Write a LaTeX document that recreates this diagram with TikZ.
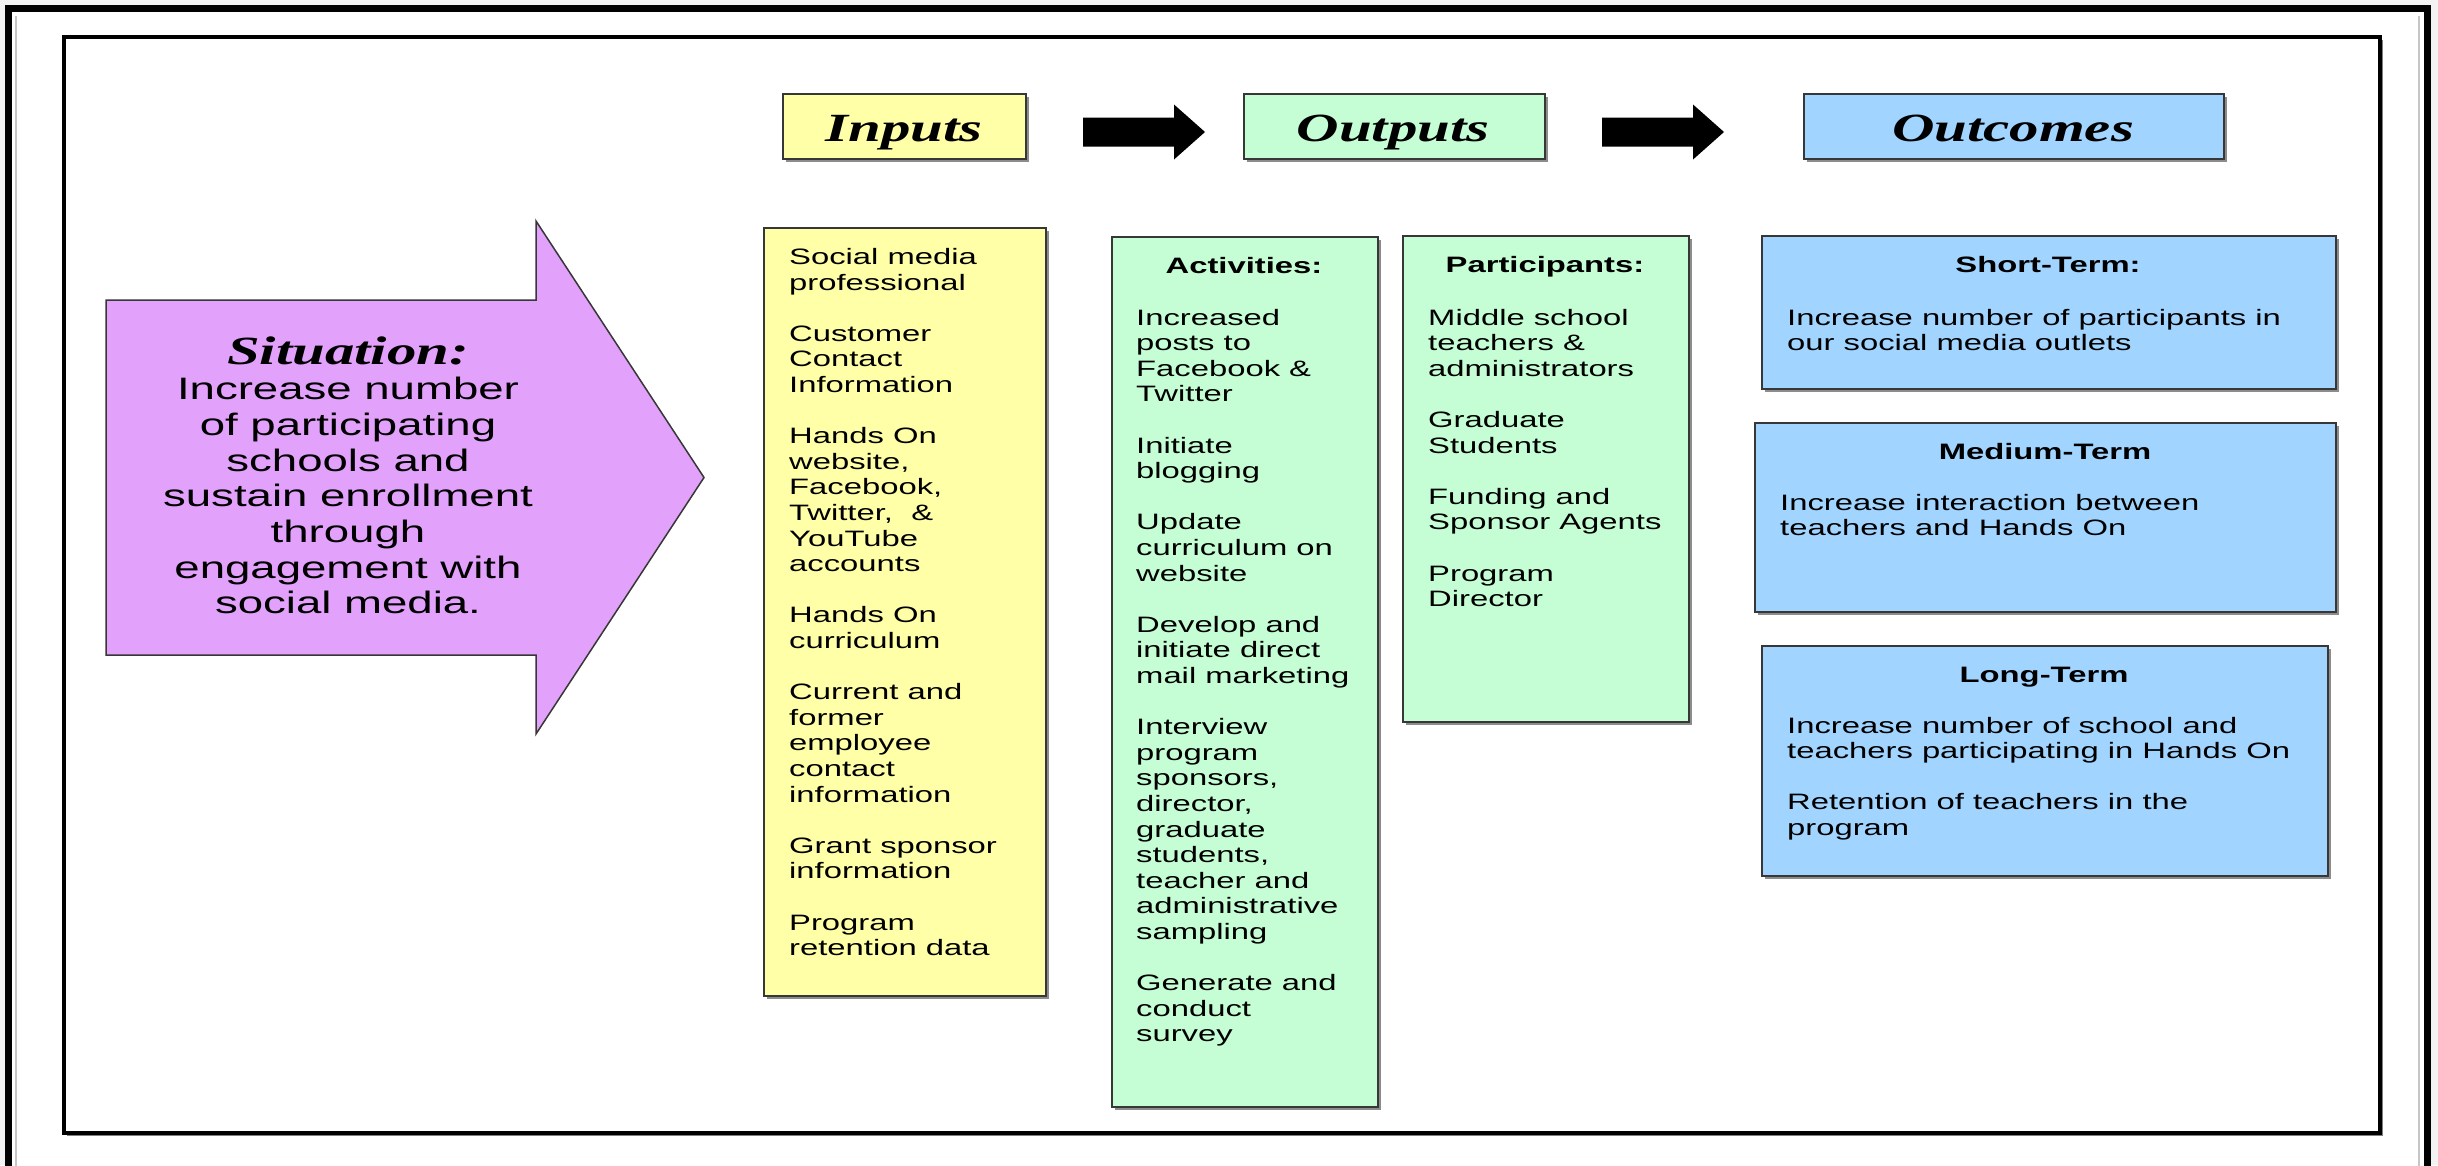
\documentclass[tikz,border=0pt]{standalone}
\usepackage{fontspec}
\setmainfont{Liberation Sans}[FakeStretch=1.47]
\newfontfamily\headfont{Liberation Serif}[FakeStretch=1.47]
\usetikzlibrary{shadows,calc}

\definecolor{inyellow}{RGB}{255,255,168}
\definecolor{outgreen}{RGB}{197,254,213}
\definecolor{outblue}{RGB}{161,212,254}
\definecolor{sitpurple}{RGB}{226,161,250}
\definecolor{boxline}{RGB}{55,55,55}
\definecolor{pagegray}{RGB}{242,242,242}

% stacked lines whose reference point is the first baseline
\newcommand\leftlines[1]{\vtop{\halign{##\hfil\cr#1\crcr}}}
\newcommand\centerlines[1]{\vtop{\halign{\hfil##\hfil\cr#1\crcr}}}

% block arrow: tail, tip, shaft half-width, head half-width, head length
\newcommand\blockarrow[5]{%
  \path[blockarrow] ($(#1)+(0,#3)$) -- ($(#2)+(-#5,#3)$) -- ($(#2)+(-#5,#4)$)
    -- (#2) -- ($(#2)+(-#5,-#4)$) -- ($(#2)+(-#5,-#3)$) -- ($(#1)+(0,-#3)$) -- cycle;}

\begin{document}
\begin{tikzpicture}[x=1pt,y=-1pt,
  box/.style={draw=boxline, line width=2pt, inner sep=0pt, anchor=north west,
    drop shadow={shadow xshift=3pt, shadow yshift=-3pt, opacity=.45, fill=black}},
  headtext/.style={inner sep=0pt, anchor=base, font=\headfont\bfseries\itshape\fontsize{40}{44}\selectfont},
  boxtitle/.style={inner sep=0pt, anchor=base, font=\bfseries\fontsize{22.3}{25.6}\selectfont},
  boxbody/.style={inner sep=0pt, anchor=base west, font=\fontsize{22.3}{25.6}\selectfont},
  blockarrow/.style={fill=black},
  frame/.style={draw=black, line width=3.5pt, inner sep=0pt, anchor=north west,
    drop shadow={shadow xshift=3pt, shadow yshift=-3pt, opacity=.5, fill=black}}]

\useasboundingbox (0,0) rectangle (2438,1165);
\clip (0,0) rectangle (2438,1165);
\fill[pagegray] (0,0) rectangle (2438,1165);

% outer and inner frames
\draw[line width=7pt, fill=white] (8.5,8) rectangle (2427,1180);
\draw[gray!45, line width=1.5pt] (16,16) -- (16,1180);
\draw[gray!45, line width=1.5pt] (2419,16) -- (2419,1180);
\node[frame, fill=white, minimum width=2316pt, minimum height=1096pt] (frame) at (62,35) {};

% column headers
\node[box, fill=inyellow, minimum width=243pt, minimum height=65pt] (inputs-head) at (782,93) {};
\node[box, fill=outgreen, minimum width=301pt, minimum height=65pt] (outputs-head) at (1243,93) {};
\node[box, fill=outblue, minimum width=420pt, minimum height=65pt] (outcomes-head) at (1803,93) {};
\node[headtext] (inputs-label) at (904,141) {Inputs};
\node[headtext] (outputs-label) at (1393,141) {Outputs};
\node[headtext] (outcomes-label) at (2013,141) {Outcomes};

% arrows between headers
\coordinate (arr1-tail) at (1083,132);
\coordinate (arr1-tip) at (1205,132);
\coordinate (arr2-tail) at (1602,132);
\coordinate (arr2-tip) at (1724,132);
\blockarrow{arr1-tail}{arr1-tip}{14.5}{27.5}{31}
\blockarrow{arr2-tail}{arr2-tip}{14.5}{27.5}{31}

% situation arrow
\path[fill=sitpurple, draw=boxline, line width=1.5pt]
  (106,300) -- (536,300) -- (536,221) -- (704,477.5) -- (536,734)
  -- (536,655) -- (106,655) -- cycle;
\node[inner sep=0pt, anchor=base, font=\fontsize{31}{35.7}\selectfont] (situation) at (348,364)
  {\centerlines{{\headfont\bfseries\itshape\fontsize{40}{35.7}\selectfont Situation:}\cr
    Increase number\cr of participating\cr schools and\cr sustain enrollment\cr
    through\cr engagement with\cr social media.}};

% inputs column
\node[box, fill=inyellow, minimum width=282pt, minimum height=768pt] (inputs) at (763,227) {};
\node[boxbody] (inputs-text) at (789,264.5) {\leftlines{%
  Social media\cr professional\cr\cr
  Customer\cr Contact\cr Information\cr\cr
  Hands On\cr website,\cr Facebook,\cr Twitter,~~\&\cr YouTube\cr accounts\cr\cr
  Hands On\cr curriculum\cr\cr
  Current and\cr former\cr employee\cr contact\cr information\cr\cr
  Grant sponsor\cr information\cr\cr
  Program\cr retention data}};

% outputs: activities
\node[box, fill=outgreen, minimum width=266pt, minimum height=870pt] (activities) at (1111,236) {};
\node[boxtitle] (activities-title) at (1244,273) {Activities:};
\node[boxbody] (activities-text) at (1136,325) {\leftlines{%
  Increased\cr posts to\cr Facebook \&\cr Twitter\cr\cr
  Initiate\cr blogging\cr\cr
  Update\cr curriculum on\cr website\cr\cr
  Develop and\cr initiate direct\cr mail marketing\cr\cr
  Interview\cr program\cr sponsors,\cr director,\cr graduate\cr students,\cr
  teacher and\cr administrative\cr sampling\cr\cr
  Generate and\cr conduct\cr survey}};

% outputs: participants
\node[box, fill=outgreen, minimum width=286pt, minimum height=486pt] (participants) at (1402,235) {};
\node[boxtitle] (participants-title) at (1545,272.5) {Participants:};
\node[boxbody] (participants-text) at (1428,325) {\leftlines{%
  Middle school\cr teachers \&\cr administrators\cr\cr
  Graduate\cr Students\cr\cr
  Funding and\cr Sponsor Agents\cr\cr
  Program\cr Director}};

% outcomes
\node[box, fill=outblue, minimum width=574pt, minimum height=153pt] (short) at (1761,235) {};
\node[boxtitle] (short-title) at (2048,272.5) {Short-Term:};
\node[boxbody] (short-text) at (1787,325) {\leftlines{%
  Increase number of participants in\cr our social media outlets}};

\node[box, fill=outblue, minimum width=581pt, minimum height=189pt] (medium) at (1754,422) {};
\node[boxtitle] (medium-title) at (2045,459) {Medium-Term};
\node[boxbody] (medium-text) at (1780,510) {\leftlines{%
  Increase interaction between\cr teachers and Hands On}};

\node[box, fill=outblue, minimum width=566pt, minimum height=230pt] (long) at (1761,645) {};
\node[boxtitle] (long-title) at (2044,682) {Long-Term};
\node[boxbody] (long-text) at (1787,733) {\leftlines{%
  Increase number of school and\cr teachers participating in Hands On\cr\cr
  Retention of teachers in the\cr program}};

\end{tikzpicture}
\end{document}
